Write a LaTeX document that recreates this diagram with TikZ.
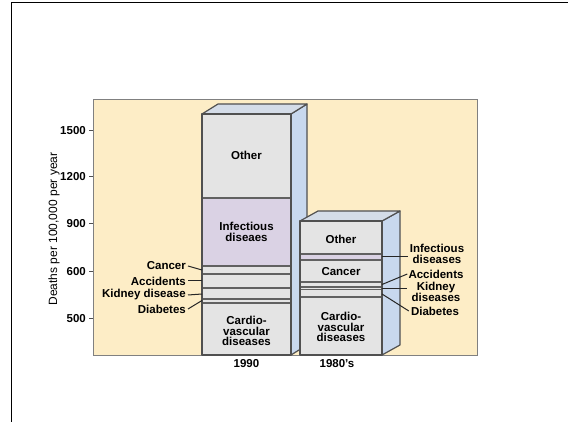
\documentclass[tikz,border=0pt]{standalone}
\usepackage{fontspec}
\setmainfont{Liberation Sans}

\definecolor{panelbg}{RGB}{253,237,198}
\definecolor{frontbg}{RGB}{228,228,228}
\definecolor{sidebg}{RGB}{200,216,238}
\definecolor{topbg}{RGB}{212,220,232}
\definecolor{infectbg}{RGB}{218,210,228}
\definecolor{edgecol}{RGB}{80,80,80}

\tikzset{
	lbl/.style={font=\bfseries\fontsize{11.5}{10.5}\selectfont, inner sep=0pt, align=center},
	outline/.style={draw=edgecol, line width=1.2pt, line join=round},
	stripe/.style={draw=edgecol!90, line width=1.3pt},
	pointer/.style={draw=black!85, line width=1pt}
}

\begin{document}
\begin{tikzpicture}[x=1pt,y=-1pt]
	\useasboundingbox (0,0) rectangle (568,422);

	%% Frame
	\draw [line width=1pt] (11,422) -- (11,3) -- (568,3);

	%% Panel
	\draw [fill=panelbg, draw=gray, line width=0.8pt] (93,99) rectangle (477,355);

	%% Axis ticks
	\foreach \val/\ypos in {1500/131,1200/177,900/224,600/272,500/319} {
		\draw [draw=edgecol, line width=1pt] (89,\ypos) -- (93,\ypos);
		\node [lbl, anchor=east] (tick\val) at (86,\ypos) {\val};
	}
	\node [lbl, font=\fontsize{12}{12}\selectfont, rotate=90] (ylab) at (54,229) {Deaths per 100,000 per year};

	%% 1990 bar
	\filldraw [outline, fill=sidebg] (291,114) -- (307,104) -- (307,345) -- (291,355) -- cycle;
	\filldraw [outline, fill=topbg] (202,114) -- (218,104) -- (307,104) -- (291,114) -- cycle;
	\fill [frontbg] (202,114) rectangle (291,355);
	\fill [infectbg] (202,198) rectangle (291,266);
	\foreach \ypos in {198,266,274,288,299,303}
		\draw [stripe] (202,\ypos) -- (291,\ypos);
	\draw [outline] (202,114) rectangle (291,355);

	\node [lbl] (other90) at (246.5,155) {Other};
	\node [lbl] (infect90) at (246.5,232) {Infectious\\diseaes};
	\node [lbl] (cardio90) at (246.5,331) {Cardio-\\vascular\\diseases};
	\node [lbl] (year90) at (246.5,364) {1990};

	%% 1980's bar
	\filldraw [outline, fill=sidebg] (382,221) -- (400,211) -- (400,345) -- (382,355) -- cycle;
	\filldraw [outline, fill=topbg] (300,221) -- (318,211) -- (400,211) -- (382,221) -- cycle;
	\fill [frontbg] (300,221) rectangle (382,355);
	\fill [infectbg] (300,254) rectangle (382,260);
	\foreach \ypos in {254,260,282,287,289.5,297}
		\draw [stripe] (300,\ypos) -- (382,\ypos);
	\draw [outline] (300,221) rectangle (382,355);

	\node [lbl] (other80) at (341,239) {Other};
	\node [lbl] (cancer80) at (341,271.5) {Cancer};
	\node [lbl] (cardio80) at (341,327) {Cardio-\\vascular\\diseases};
	\node [lbl] (year80) at (337,364) {1980's};

	%% Left labels
	\node [lbl, anchor=east] (cancerL) at (186,266) {Cancer};
	\node [lbl, anchor=east] (accidL) at (186,281) {Accidents};
	\node [lbl, anchor=east] (kidneyL) at (186,295) {Kidney disease};
	\node [lbl, anchor=east] (diabL) at (186,309) {Diabetes};
	\coordinate (c90) at (202,270);
	\coordinate (a90) at (202,281);
	\coordinate (k90) at (202,294);
	\coordinate (d90) at (202,300.5);
	\draw [pointer] ([xshift=2pt]cancerL.east) -- (c90);
	\draw [pointer] ([xshift=2pt]accidL.east) -- (a90);
	\draw [pointer] ([xshift=2pt]kidneyL.east) -- (k90);
	\draw [pointer] ([xshift=2pt]diabL.east) -- (d90);

	%% Right labels
	\node [lbl] (infectR) at (437,254) {Infectious\\diseases};
	\node [lbl] (accidR) at (436,274) {Accidents};
	\node [lbl] (kidneyR) at (436,292) {Kidney\\diseases};
	\node [lbl] (diabR) at (435,311) {Diabetes};
	\coordinate (i80) at (382,257);
	\coordinate (a80) at (382,284.5);
	\coordinate (k80) at (382,288.5);
	\coordinate (d80) at (382,294);
	\draw [pointer] (i80) -- ([xshift=-2pt]infectR.west |- i80);
	\draw [pointer] (a80) -- ([xshift=-1pt]accidR.west);
	\draw [pointer] (k80) -- (407,288.5);
	\draw [pointer] (d80) -- ([xshift=-2pt]diabR.west);
\end{tikzpicture}
\end{document}
